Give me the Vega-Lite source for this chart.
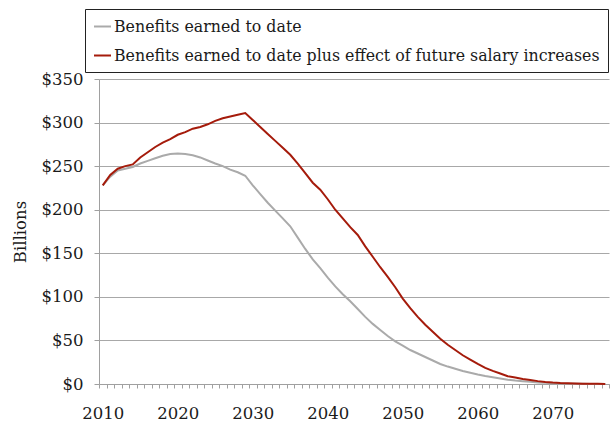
{
  "$schema": "https://vega.github.io/schema/vega-lite/v6.json",
  "autosize": {"type": "none"},
  "width": 510,
  "height": 305,
  "padding": {"left": 99, "top": 79, "right": 2, "bottom": 43},
  "background": "white",
  "config": {
    "view": {"stroke": null},
    "font": "DejaVu Serif"
  },
  "data": {
    "values": [
      {"year": 2010, "gray": 228, "red": 228},
      {"year": 2011, "gray": 238, "red": 240},
      {"year": 2012, "gray": 245, "red": 247},
      {"year": 2013, "gray": 247, "red": 250},
      {"year": 2014, "gray": 249, "red": 252},
      {"year": 2015, "gray": 253, "red": 260},
      {"year": 2016, "gray": 256, "red": 266},
      {"year": 2017, "gray": 259, "red": 272},
      {"year": 2018, "gray": 262, "red": 277},
      {"year": 2019, "gray": 264, "red": 281},
      {"year": 2020, "gray": 264.5, "red": 286},
      {"year": 2021, "gray": 264, "red": 289},
      {"year": 2022, "gray": 262.5, "red": 293},
      {"year": 2023, "gray": 260, "red": 295},
      {"year": 2024, "gray": 256.5, "red": 298},
      {"year": 2025, "gray": 253, "red": 302},
      {"year": 2026, "gray": 250, "red": 305},
      {"year": 2027, "gray": 246, "red": 307},
      {"year": 2028, "gray": 243, "red": 309},
      {"year": 2029, "gray": 239, "red": 311},
      {"year": 2030, "gray": 228, "red": 303},
      {"year": 2031, "gray": 218, "red": 295},
      {"year": 2032, "gray": 208, "red": 287},
      {"year": 2033, "gray": 199, "red": 279},
      {"year": 2034, "gray": 190, "red": 271},
      {"year": 2035, "gray": 181, "red": 263},
      {"year": 2036, "gray": 168, "red": 253},
      {"year": 2037, "gray": 155, "red": 242},
      {"year": 2038, "gray": 143, "red": 231},
      {"year": 2039, "gray": 133, "red": 223},
      {"year": 2040, "gray": 122, "red": 212},
      {"year": 2041, "gray": 112, "red": 200},
      {"year": 2042, "gray": 103, "red": 190},
      {"year": 2043, "gray": 95, "red": 180},
      {"year": 2044, "gray": 86, "red": 171},
      {"year": 2045, "gray": 77, "red": 158},
      {"year": 2046, "gray": 69, "red": 146},
      {"year": 2047, "gray": 62, "red": 134},
      {"year": 2048, "gray": 55, "red": 123},
      {"year": 2049, "gray": 49, "red": 111},
      {"year": 2050, "gray": 44, "red": 98},
      {"year": 2051, "gray": 39, "red": 87},
      {"year": 2052, "gray": 35, "red": 77},
      {"year": 2053, "gray": 31, "red": 68},
      {"year": 2054, "gray": 27, "red": 60},
      {"year": 2055, "gray": 23, "red": 52},
      {"year": 2056, "gray": 20, "red": 45},
      {"year": 2057, "gray": 17.5, "red": 39},
      {"year": 2058, "gray": 15, "red": 33},
      {"year": 2059, "gray": 13, "red": 28},
      {"year": 2060, "gray": 11, "red": 23},
      {"year": 2061, "gray": 9.2, "red": 18.5},
      {"year": 2062, "gray": 7.7, "red": 15},
      {"year": 2063, "gray": 6.3, "red": 12},
      {"year": 2064, "gray": 5, "red": 9},
      {"year": 2065, "gray": 4, "red": 7.5},
      {"year": 2066, "gray": 3.2, "red": 5.8},
      {"year": 2067, "gray": 2.5, "red": 4.5},
      {"year": 2068, "gray": 1.8, "red": 3.3},
      {"year": 2069, "gray": 1.3, "red": 2.4},
      {"year": 2070, "gray": 0.9, "red": 1.7},
      {"year": 2071, "gray": 0.6, "red": 1.2},
      {"year": 2072, "gray": 0.4, "red": 0.9},
      {"year": 2073, "gray": 0.3, "red": 0.6},
      {"year": 2074, "gray": 0.2, "red": 0.4},
      {"year": 2075, "gray": 0.1, "red": 0.3},
      {"year": 2076, "gray": 0.05, "red": 0.2},
      {"year": 2077, "gray": 0, "red": 0.1}
    ]
  },
  "transform": [
    {"fold": ["gray", "red"], "as": ["series", "value"]},
    {"lookup": "series", "from": {"data": {"values": [
      {"series": "gray", "label": "Benefits earned to date"},
      {"series": "red", "label": "Benefits earned to date plus effect of future salary increases"}
    ]}, "key": "series", "fields": ["label"]}}
  ],
  "encoding": {
    "y": {
      "field": "value", "type": "quantitative",
      "scale": {"domain": [0, 350], "nice": false},
      "axis": {
        "values": [0, 50, 100, 150, 200, 250, 300, 350],
        "labelExpr": "'$' + datum.value",
        "labelFont": "DejaVu Serif", "labelFontSize": 16.5, "labelColor": "#1a1a1a", "labelPadding": 11,
        "tickSize": 5, "tickColor": "#a0a0a0",
        "domainColor": "#a0a0a0", "domainWidth": 1,
        "gridColor": "#a8a8a8", "gridWidth": 1,
        "title": "Billions", "titleFont": "DejaVu Serif", "titleFontSize": 16.5, "titleFontWeight": "normal",
        "titleColor": "#1a1a1a", "titlePadding": 13
      }
    },
    "color": {
      "field": "label", "type": "nominal",
      "scale": {
        "domain": ["Benefits earned to date", "Benefits earned to date plus effect of future salary increases"],
        "range": ["#aaaaaa", "#a51b0b"]
      },
      "legend": {
        "title": null, "orient": "none", "legendX": -14, "legendY": -70,
        "symbolType": "stroke", "symbolSize": 289, "symbolStrokeWidth": 2,
        "labelFont": "DejaVu Serif", "labelFontSize": 15.8, "labelColor": "#1a1a1a", "labelOffset": 2, "labelLimit": 700,
        "strokeColor": "#222222", "fillColor": "white", "padding": 8, "rowPadding": 11
      }
    }
  },
  "resolve": {"axis": {"x": "independent"}},
  "layer": [
    {
      "transform": [{"filter": "datum.series == 'gray'"}],
      "mark": {"type": "line", "strokeWidth": 2},
      "encoding": {
        "x": {
          "field": "year", "type": "quantitative",
          "scale": {"domain": [2009.5, 2077.5], "nice": false, "zero": false},
          "axis": {
            "orient": "bottom",
            "values": [2010, 2020, 2030, 2040, 2050, 2060, 2070],
            "format": "d", "grid": false, "ticks": false, "domain": false,
            "labelFont": "DejaVu Serif", "labelFontSize": 16.5, "labelColor": "#1a1a1a",
            "labelPadding": 21, "title": null
          }
        }
      }
    },
    {
      "transform": [{"filter": "datum.series == 'red'"}],
      "mark": {"type": "line", "strokeWidth": 2},
      "encoding": {
        "x": {
          "field": "year", "type": "quantitative",
          "axis": {
            "orient": "bottom",
            "values": [2009.5, 2010.5, 2011.5, 2012.5, 2013.5, 2014.5, 2015.5, 2016.5, 2017.5, 2018.5, 2019.5, 2020.5, 2021.5, 2022.5, 2023.5, 2024.5, 2025.5, 2026.5, 2027.5, 2028.5, 2029.5, 2030.5, 2031.5, 2032.5, 2033.5, 2034.5, 2035.5, 2036.5, 2037.5, 2038.5, 2039.5, 2040.5, 2041.5, 2042.5, 2043.5, 2044.5, 2045.5, 2046.5, 2047.5, 2048.5, 2049.5, 2050.5, 2051.5, 2052.5, 2053.5, 2054.5, 2055.5, 2056.5, 2057.5, 2058.5, 2059.5, 2060.5, 2061.5, 2062.5, 2063.5, 2064.5, 2065.5, 2066.5, 2067.5, 2068.5, 2069.5, 2070.5, 2071.5, 2072.5, 2073.5, 2074.5, 2075.5, 2076.5, 2077.5],
            "labels": false, "grid": false, "tickSize": 4,
            "tickColor": "#a0a0a0", "domainColor": "#a0a0a0", "title": null
          }
        }
      }
    }
  ]
}
